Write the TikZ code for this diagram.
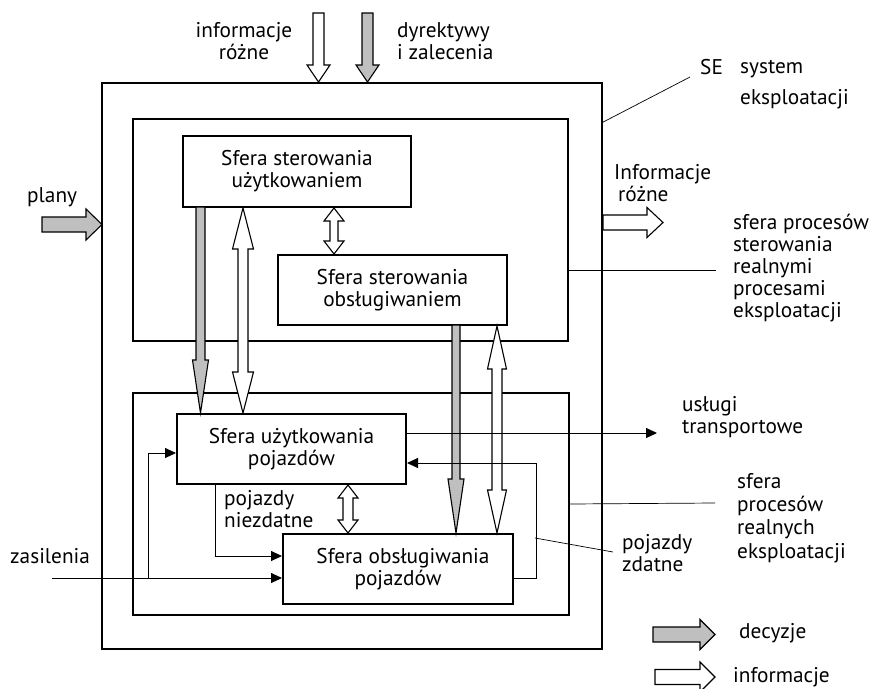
\documentclass[tikz,border=0pt]{standalone}
\usepackage{fontspec}
\setmainfont{PT Sans}
\usetikzlibrary{arrows.meta}
% vertical double/single block arrows: x, y-tail, y-tip, half shaft, half head, head length (signed), style
\newcommand\vblk[7]{%
  \filldraw[#7] (#1-#4,#2) -- (#1+#4,#2) -- (#1+#4,#3-#6) -- (#1+#5,#3-#6) -- (#1,#3)
    -- (#1-#5,#3-#6) -- (#1-#4,#3-#6) -- cycle;}
\newcommand\vdbl[7]{%
  \filldraw[#7] (#1,#2) -- (#1+#5,#2+#6) -- (#1+#4,#2+#6) -- (#1+#4,#3-#6) -- (#1+#5,#3-#6) -- (#1,#3)
    -- (#1-#5,#3-#6) -- (#1-#4,#3-#6) -- (#1-#4,#2+#6) -- (#1-#5,#2+#6) -- cycle;}
\newcommand\hblk[7]{%
  \filldraw[#7] (#2,#1-#4) -- (#2,#1+#4) -- (#3-#6,#1+#4) -- (#3-#6,#1+#5) -- (#3,#1)
    -- (#3-#6,#1-#5) -- (#3-#6,#1-#4) -- cycle;}
\begin{document}
\begin{tikzpicture}[x=1pt,y=-1pt,
  font=\fontsize{21.3}{22}\selectfont,
  box/.style={draw, line width=2pt, inner sep=0pt, align=center},
  frame/.style={draw, line width=1.4pt, inner sep=0pt},
  conn/.style={line width=0.9pt},
  lead/.style={line width=0.7pt},
  tipa/.style={-{Triangle[length=11pt,width=10pt]}},
  lbl/.style={inner sep=0pt, align=left, anchor=west},
  garr/.style={draw, line width=1.1pt, fill=gray!50, line join=miter},
  warr/.style={draw, line width=1.1pt, fill=white, line join=miter}]
\useasboundingbox (0,0) rectangle (882,688);

% frames
\node[frame, minimum width=500pt, minimum height=566pt] (se) at (352,366) {};
\node[frame, minimum width=435pt, minimum height=222pt] (ctrl) at (350.5,230) {};
\node[frame, minimum width=436pt, minimum height=222pt] (real) at (351,504) {};

% boxes
\node[box, minimum width=228pt, minimum height=71pt] (ssu) at (297,171.5) {Sfera sterowania\\użytkowaniem};
\node[box, minimum width=229pt, minimum height=70pt] (sso) at (392.5,290) {Sfera sterowania\\obsługiwaniem};
\node[box, minimum width=229pt, minimum height=70pt] (sup) at (291.5,449) {Sfera użytkowania\\pojazdów};
\node[box, minimum width=230pt, minimum height=70pt] (sop) at (398,569) {\hspace{10pt}Sfera obsługiwania\\pojazdów};

% block arrows
\vblk{200.5}{207}{413}{4.5}{8}{53}{garr}
\vdbl{243}{208}{413}{5}{10.5}{41}{warr}
\vdbl{334}{208}{254}{4}{10}{13}{warr}
\vblk{456}{325}{533}{4}{8}{54}{garr}
\vdbl{497}{326}{533}{5}{9.5}{43}{warr}
\vdbl{348}{485}{533}{5}{10}{13}{warr}
\vblk{318.5}{13}{82}{5.5}{11.5}{17}{warr}
\vblk{367.5}{13}{82}{5.5}{11.5}{17}{garr}
\hblk{224.5}{42}{102}{7.5}{15.5}{16}{garr}
\hblk{222.5}{603}{663}{7.5}{15}{16}{warr}
\hblk{634.5}{653}{715}{7.5}{15}{15}{garr}
\hblk{677}{655}{715}{7.5}{15}{15}{warr}

% thin connectors
\coordinate (usl) at (657,433);
\draw[conn,tipa] ([yshift=16pt]sup.east) -- (usl);
\draw[conn,tipa] ([yshift=-9pt]sop.east) -- ++(22,0) |- ([yshift=-14pt]sup.east);
\draw[conn,tipa] ([xshift=-76.5pt]sup.south) |- ([yshift=13pt]sop.west);
\coordinate (zas) at (52,578);
\coordinate (br) at (148,578);
\draw[conn,tipa] (zas) -- ([yshift=-9pt]sop.west);
\draw[conn,tipa] (br) |- ([yshift=-4pt]sup.west);

% leader lines
\coordinate (seL) at (690,77);
\draw[lead] ([yshift=-40pt]se.north east) -- (seL);
\coordinate (ctrlL) at (716,270);
\draw[lead] ([yshift=-40pt]ctrl.east) -- (ctrlL);
\coordinate (realL) at (715,503);
\draw[lead] (real.east) -- (realL);
\coordinate (zdA) at (535,538);
\coordinate (zdB) at (613,552);
\draw[lead] (zdA) -- (zdB);

% labels
\node[inner sep=0pt, align=center] (tinf) at (244,41) {informacje\\różne};
\node[lbl] (tdyr) at (397,41) {dyrektywy\\i zalecenia};
\node[lbl] (tse) at (700,67) {SE};
\node[lbl] (tsys) at (740,85) {system\\[9pt]eksploatacji};
\node[lbl] (tpl) at (27,197) {plany};
\node[lbl] (tinr) at (614,183) {Informacje\\\hspace{4pt}różne};
\node[lbl] (tctrl) at (733,268.5) {sfera procesów\\sterowania\\realnymi\\procesami\\eksploatacji};
\node[lbl] (tusl) at (682,417.5) {usługi\\transportowe};
\node[lbl, font=\fontsize{21.3}{23.3}\selectfont] (treal) at (737,518) {sfera\\procesów\\realnych\\eksploatacji};
\node[lbl] (tzd) at (622,553) {pojazdy\\zdatne};
\node[lbl] (tnz) at (224,509) {pojazdy\\niezdatne};
\node[lbl] (tzas) at (10,556) {zasilenia};
\node[lbl] (tdec) at (739,633) {decyzje};
\node[lbl] (tinfo) at (733,677) {informacje};
\end{tikzpicture}
\end{document}
